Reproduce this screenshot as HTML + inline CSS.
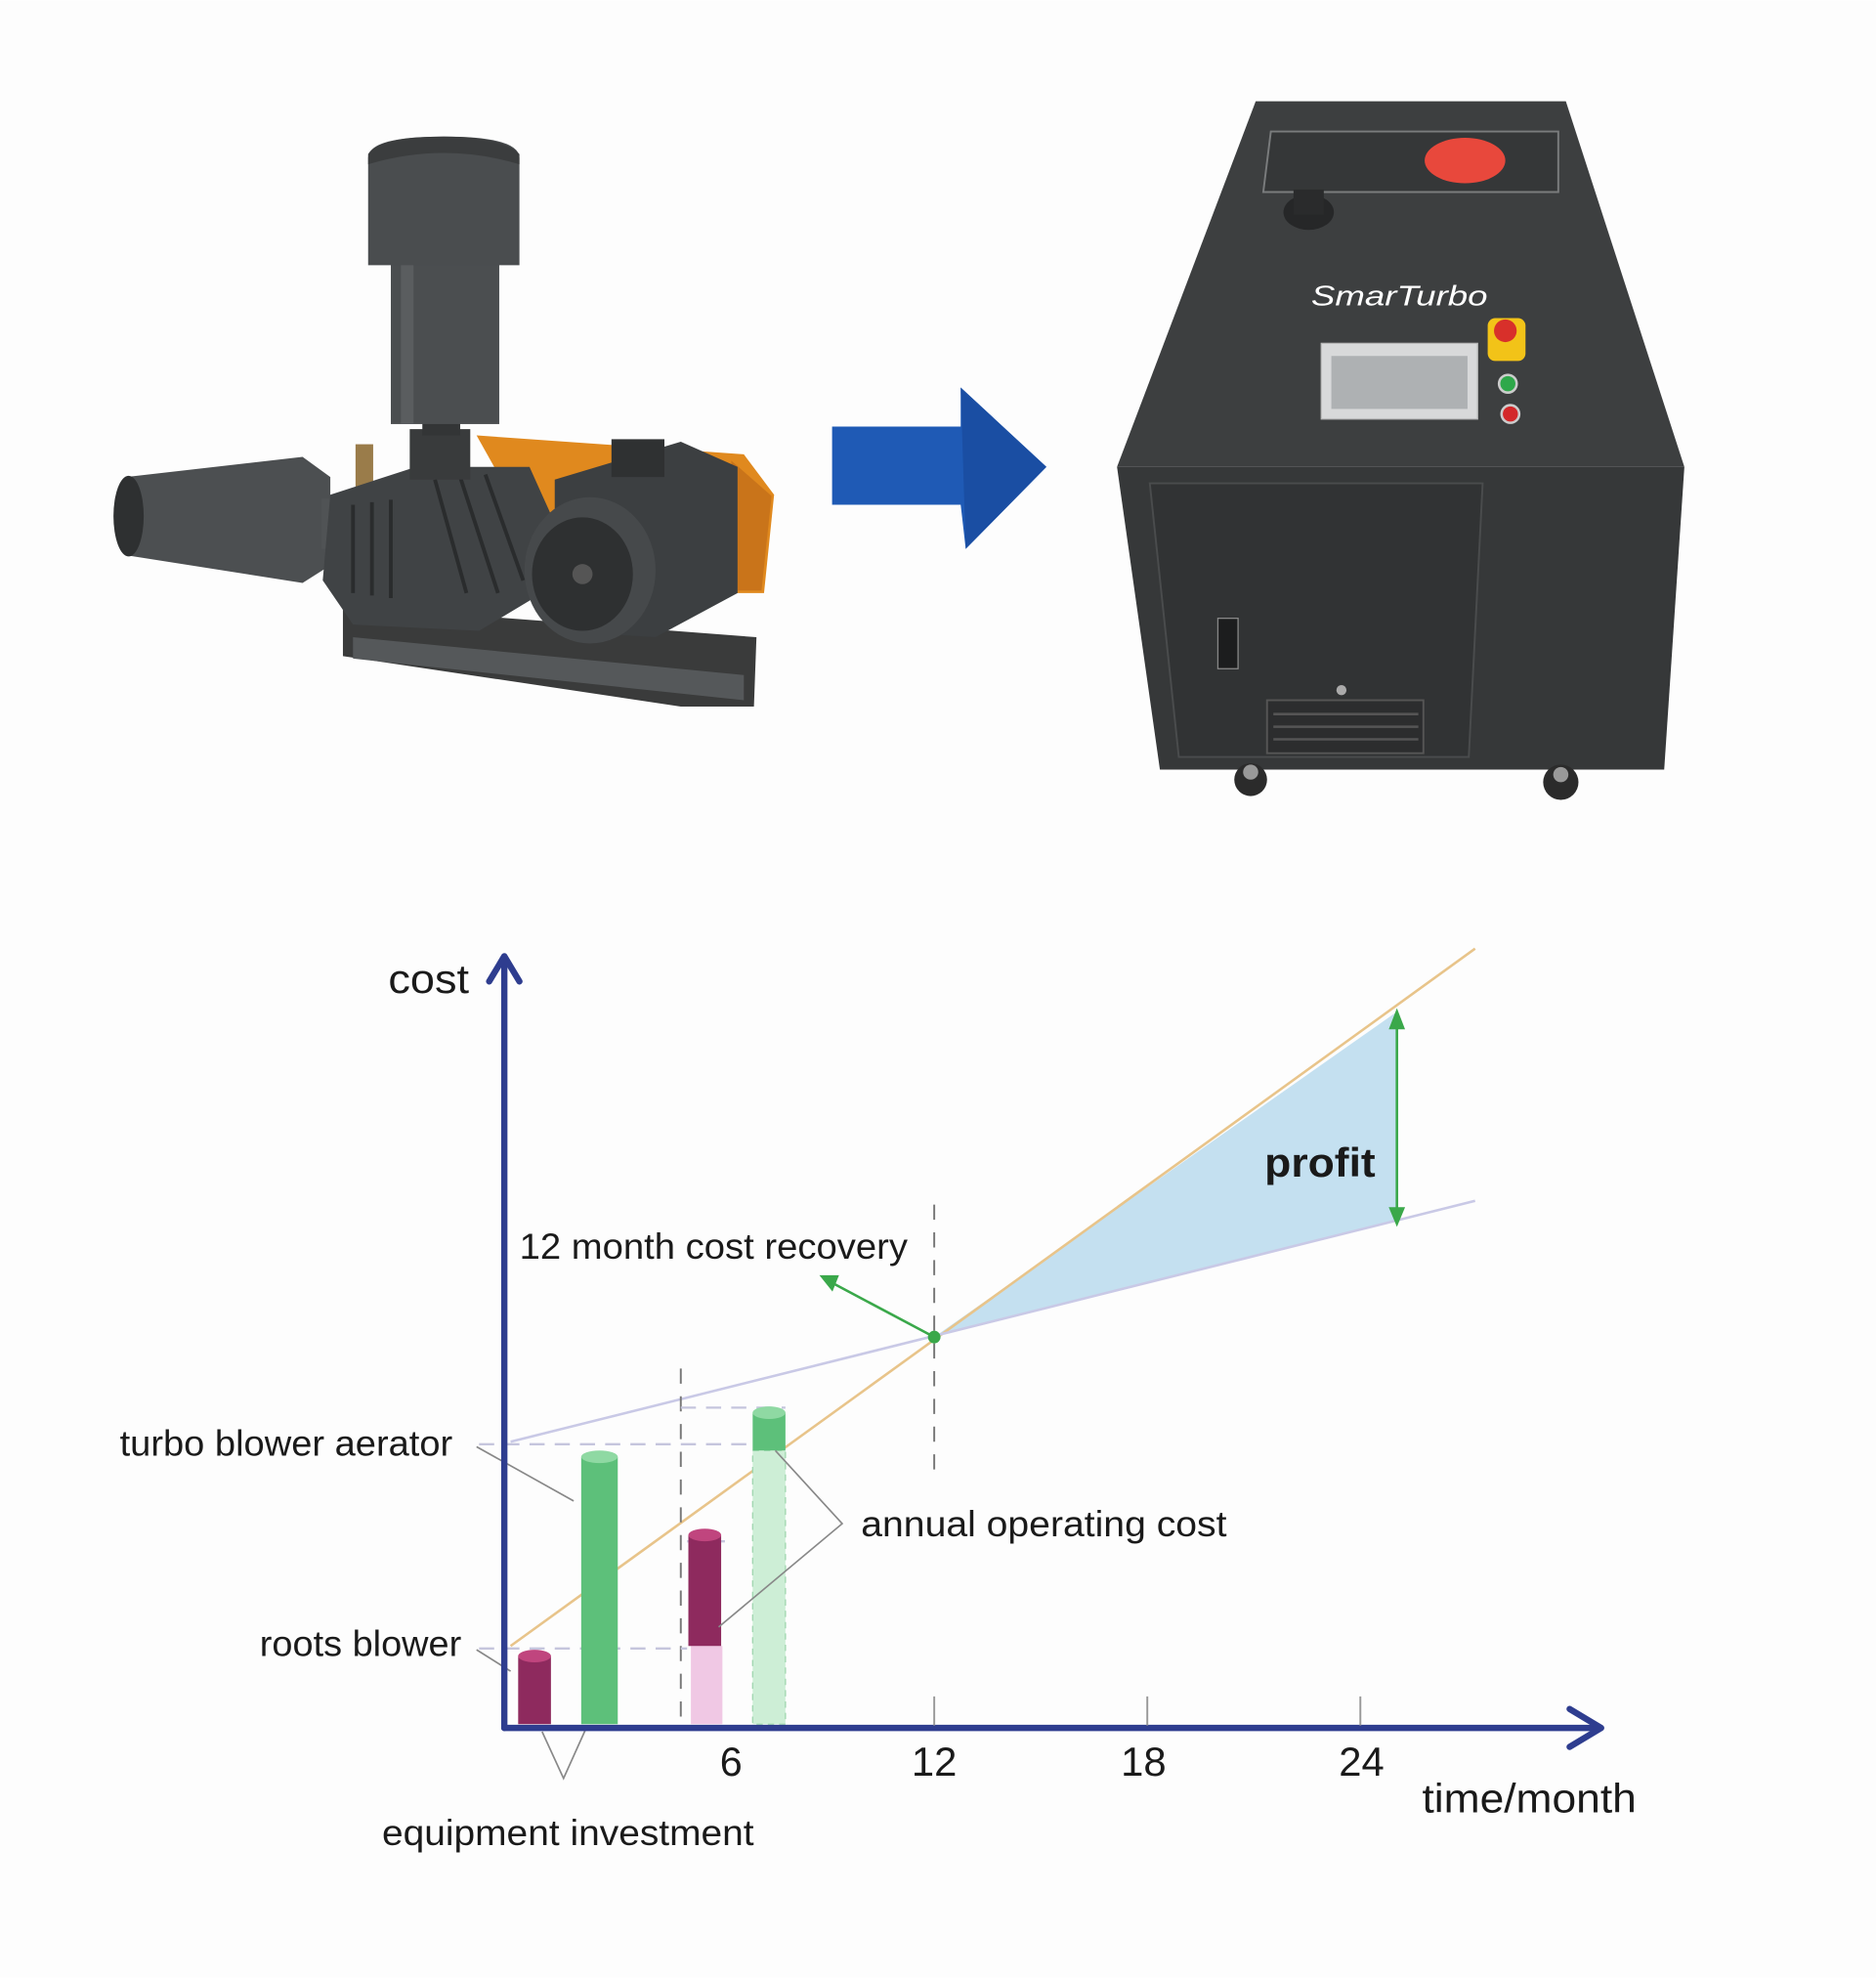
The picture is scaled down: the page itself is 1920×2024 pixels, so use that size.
<!DOCTYPE html>
<html><head><meta charset="utf-8"><style>
html,body{margin:0;padding:0;background:#fff;}
svg{display:block;}
text{font-family:"Liberation Sans",sans-serif;}
</style></head><body>
<svg width="1920" height="2024" viewBox="0 0 1488 1568" xmlns="http://www.w3.org/2000/svg">
<rect width="1488" height="1568" fill="#fdfdfd"/>

<!-- Roots blower -->
<g>
  <polygon points="272,480 600,505 598,560 540,560 272,520" fill="#3a3b3b"/>
  <polygon points="280,505 590,535 590,555 280,522" fill="#55585a"/>
  <polygon points="378,345 590,360 614,392 606,470 560,470 420,420" fill="#e0891e"/>
  <polygon points="580,365 612,393 604,468 585,468" fill="#c9741a"/>
  <polygon points="100,378 240,362 262,378 262,448 240,462 100,440" fill="#4c4f51"/>
  <ellipse cx="102" cy="409" rx="12" ry="32" fill="#2e3031"/>
  <rect x="255" y="395" width="20" height="40" fill="#505355"/>
  <rect x="282" y="352" width="14" height="40" fill="#9a7c4a"/>
  <polygon points="262,392 330,370 420,370 438,410 430,470 380,500 280,495 256,460" fill="#404345"/>
  <g stroke="#2a2c2d" stroke-width="3">
    <line x1="280" y1="400" x2="280" y2="470"/><line x1="295" y1="398" x2="295" y2="472"/>
    <line x1="310" y1="396" x2="310" y2="474"/><line x1="345" y1="380" x2="370" y2="470"/>
    <line x1="365" y1="378" x2="395" y2="470"/><line x1="385" y1="376" x2="415" y2="460"/>
  </g>
  <rect x="325" y="340" width="48" height="40" fill="#393b3c"/>
  <rect x="335" y="325" width="30" height="20" fill="#333536"/>
  <rect x="310" y="208" width="86" height="128" fill="#4b4e50"/>
  <rect x="318" y="208" width="10" height="128" fill="#5a5d5f"/>
  <path d="M292,210 L292,125 Q292,108 352,108 Q412,108 412,125 L412,210 Z" fill="#4a4d4f"/>
  <path d="M292,130 Q352,112 412,130 L412,122 Q400,108 352,108 Q300,108 292,122 Z" fill="#3b3d3e"/>
  <polygon points="440,380 540,350 585,370 585,470 520,505 440,500" fill="#3c3f41"/>
  <rect x="485" y="348" width="42" height="30" fill="#2f3132"/>
  <ellipse cx="468" cy="452" rx="52" ry="58" fill="#46494b"/>
  <ellipse cx="462" cy="455" rx="40" ry="45" fill="#2e3031"/>
  <ellipse cx="462" cy="455" rx="8" ry="8" fill="#555"/>
</g>

<!-- Blue arrow -->
<polygon points="660,338 762,338 762,307 830,370 766,435 762,400 660,400" fill="#1f5ab5"/>
<polygon points="762,307 830,370 766,435" fill="#1a4ea3"/>

<!-- Cabinet -->
<g>
  <polygon points="996,80 1242,80 1336,370 886,370" fill="#3d3f40"/>
  <polygon points="1008,104 1236,104 1236,152 1002,152" fill="#353738" stroke="#7a7c7d" stroke-width="1.5"/>
  <ellipse cx="1162" cy="127" rx="32" ry="18" fill="#e8483c"/>
  <ellipse cx="1038" cy="168" rx="20" ry="14" fill="#262728"/>
  <rect x="1026" y="150" width="24" height="20" fill="#2a2b2c"/>
  <text x="1040" y="242" font-size="22" font-style="italic" fill="#fff" textLength="140" lengthAdjust="spacingAndGlyphs">SmarTurbo</text>
  <rect x="1048" y="272" width="124" height="60" fill="#d8d9da" stroke="#bbb"/>
  <rect x="1056" y="282" width="108" height="42" fill="#aeb1b3"/>
  <rect x="1180" y="252" width="30" height="34" rx="6" fill="#f2c318"/>
  <circle cx="1194" cy="262" r="9" fill="#d8302a"/>
  <circle cx="1196" cy="304" r="7" fill="#2ea84a" stroke="#ccc" stroke-width="2"/>
  <circle cx="1198" cy="328" r="7" fill="#d3282a" stroke="#ccc" stroke-width="2"/>
  <polygon points="886,370 1336,370 1320,610 920,610" fill="#363839"/>
  <polygon points="912,383 1176,383 1165,600 935,600" fill="#313334" stroke="#4a4c4d" stroke-width="1.5"/>
  <rect x="966" y="490" width="16" height="40" fill="#1c1d1e" stroke="#888" stroke-width="1"/>
  <rect x="1005" y="555" width="124" height="42" fill="#2c2d2e" stroke="#555" stroke-width="1.5"/>
  <g stroke="#555" stroke-width="2"><line x1="1010" y1="566" x2="1125" y2="566"/><line x1="1010" y1="576" x2="1125" y2="576"/><line x1="1010" y1="586" x2="1125" y2="586"/></g>
  <circle cx="1064" cy="547" r="4" fill="#aaa"/>
  <circle cx="992" cy="618" r="13" fill="#2b2b2b"/><circle cx="992" cy="612" r="6" fill="#999"/>
  <circle cx="1238" cy="620" r="14" fill="#2b2b2b"/><circle cx="1238" cy="614" r="6" fill="#999"/>
</g>

<!-- Chart -->
<g>
  <polygon points="741,1060 1108,802 1108,968" fill="#c4e0f0"/>
  <line x1="405" y1="1305" x2="1170" y2="752" stroke="#e8c48a" stroke-width="2"/>
  <line x1="405" y1="1143" x2="1170" y2="952" stroke="#c9c9e6" stroke-width="2"/>
  <g stroke="#777" stroke-width="1.5" stroke-dasharray="12,10" fill="none">
    <line x1="741" y1="955" x2="741" y2="1168"/>
    <line x1="540" y1="1085" x2="540" y2="1365"/>
  </g>
  <g stroke="#c5c5dd" stroke-width="1.8" stroke-dasharray="12,8" fill="none">
    <line x1="380" y1="1145" x2="600" y2="1145"/>
    <line x1="380" y1="1307" x2="545" y2="1307"/>
    <line x1="540" y1="1116" x2="623" y2="1116"/>
    <line x1="545" y1="1222" x2="575" y2="1222"/>
  </g>
  <g stroke="#3aa84a" stroke-width="2" fill="#3aa84a">
    <line x1="1108" y1="808" x2="1108" y2="965"/>
    <polygon points="1103,815 1108,802 1113,815"/>
    <polygon points="1103,958 1108,970 1113,958"/>
    <line x1="741" y1="1060" x2="660" y2="1017"/>
    <polygon points="652,1012 664,1012 660,1022"/>
    <circle cx="741" cy="1060" r="4"/>
  </g>
  <rect x="548" y="1305" width="25" height="62" fill="#f0c8e4"/>
  <rect x="597" y="1150" width="26" height="217" fill="#cdeed6" stroke="#9fd6ae" stroke-dasharray="5,4"/>
  <rect x="411" y="1313" width="26" height="54" fill="#8e2a5e"/>
  <ellipse cx="424" cy="1313" rx="13" ry="5" fill="#c0457e"/>
  <rect x="461" y="1155" width="29" height="212" fill="#5dc07a"/>
  <ellipse cx="475.5" cy="1155" rx="14.5" ry="5" fill="#8fd9a3"/>
  <rect x="546" y="1217" width="26" height="88" fill="#8e2a5e"/>
  <ellipse cx="559" cy="1217" rx="13" ry="5" fill="#c0457e"/>
  <rect x="597" y="1120" width="26" height="30" fill="#5dc07a"/>
  <ellipse cx="610" cy="1120" rx="13" ry="5" fill="#8fd9a3"/>
  <g stroke="#888" stroke-width="1.3" fill="none">
    <polyline points="378,1147 455,1190"/>
    <polyline points="378,1308 405,1325"/>
    <polyline points="430,1373 447,1410 465,1370"/>
    <polyline points="615,1150 668,1208 570,1290"/>
  </g>
  <g stroke="#2e3d8f" stroke-width="5" fill="none" stroke-linecap="round" stroke-linejoin="round">
    <line x1="400" y1="1370" x2="400" y2="760"/>
    <polyline points="388,778 400,758 412,778"/>
    <line x1="400" y1="1370" x2="1268" y2="1370"/>
    <polyline points="1245,1355 1270,1370 1245,1385"/>
  </g>
  <g stroke="#999" stroke-width="1.5">
    <line x1="741" y1="1345" x2="741" y2="1368"/>
    <line x1="910" y1="1345" x2="910" y2="1368"/>
    <line x1="1079" y1="1345" x2="1079" y2="1368"/>
  </g>
  <g fill="#1a1a1a" font-size="32">
    <text x="308" y="787" textLength="64" lengthAdjust="spacingAndGlyphs">cost</text>
    <text x="412" y="998" font-size="29" textLength="308" lengthAdjust="spacingAndGlyphs">12 month cost recovery</text>
    <text x="1003" y="933" font-weight="bold" textLength="88" lengthAdjust="spacingAndGlyphs">profit</text>
    <text x="95" y="1154" font-size="29" textLength="264" lengthAdjust="spacingAndGlyphs">turbo blower aerator</text>
    <text x="206" y="1313" font-size="29" textLength="160" lengthAdjust="spacingAndGlyphs">roots blower</text>
    <text x="683" y="1218" font-size="29" textLength="290" lengthAdjust="spacingAndGlyphs">annual operating cost</text>
    <text x="303" y="1463" font-size="29" textLength="295" lengthAdjust="spacingAndGlyphs">equipment investment</text>
    <text x="571" y="1408">6</text>
    <text x="723" y="1408" textLength="36" lengthAdjust="spacingAndGlyphs">12</text>
    <text x="889" y="1408" textLength="36" lengthAdjust="spacingAndGlyphs">18</text>
    <text x="1062" y="1408" textLength="36" lengthAdjust="spacingAndGlyphs">24</text>
    <text x="1128" y="1437" textLength="170" lengthAdjust="spacingAndGlyphs">time/month</text>
  </g>
</g>
</svg>
</body></html>
